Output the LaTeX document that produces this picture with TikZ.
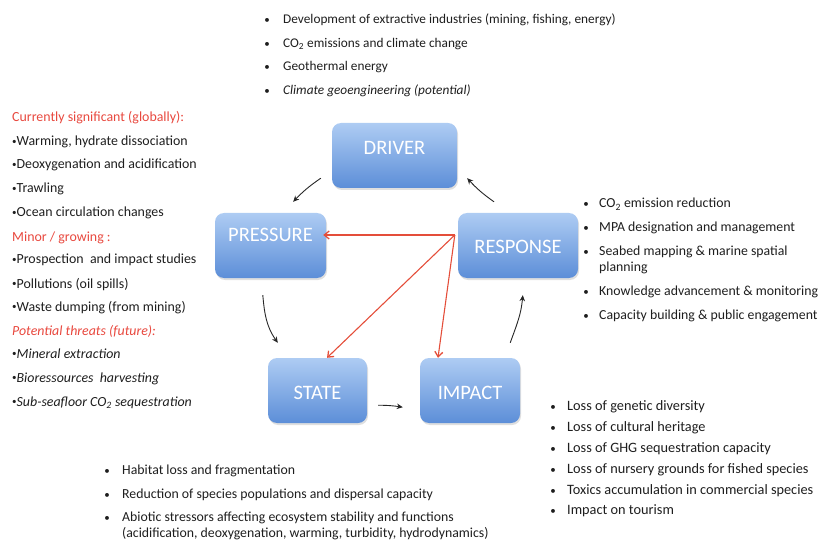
\documentclass[tikz,border=0pt]{standalone}
\usepackage{fontspec}
\setmainfont{Carlito}
\usetikzlibrary{arrows.meta,shadows,calc}
\definecolor{boxtop}{RGB}{174,204,243}
\definecolor{boxbot}{RGB}{92,142,216}
\definecolor{hdred}{RGB}{232,72,62}
\definecolor{arred}{RGB}{228,78,58}
\definecolor{txt}{RGB}{30,30,30}
\newcommand{\smbul}{\raisebox{1.6pt}{\fontsize{9}{10}\selectfont\textbullet}}
\begin{document}
\begin{tikzpicture}[x=1pt,y=1pt,
  box/.style={rounded corners=9pt, top color=boxtop, bottom color=boxbot,
    minimum height=65pt, text=white, font=\fontsize{20.5}{22}\selectfont,
    drop shadow={shadow xshift=1pt,shadow yshift=-2pt,opacity=0.25}, inner sep=0pt},
  topitem/.style={anchor=base west, inner sep=0pt, text=txt, font=\fontsize{13.3}{15}\selectfont},
  leftitem/.style={anchor=base west, inner sep=0pt, text=txt, font=\fontsize{13.9}{15}\selectfont},
  sideitem/.style={anchor=base west, inner sep=0pt, text=txt, font=\fontsize{13.8}{15}\selectfont},
  impitem/.style={sideitem, font=\fontsize{14.3}{16}\selectfont},
  bul/.style={anchor=base, inner sep=0pt, text=txt, font=\fontsize{11}{13}\selectfont},
  hd/.style={leftitem, text=hdred},
  cyc/.style={draw=black!85, line width=0.9pt, -{Stealth[length=6pt,width=5.5pt]}},
  redar/.style={draw=arred, line width=1.1pt, -{Straight Barb[length=5pt,width=8pt,line width=1.3pt]}}
]
\useasboundingbox (0,0) rectangle (822,-540);

% boxes
\node[box, minimum width=125pt, text height=13pt, text depth=14pt] (driver) at (394.5,-155.5) {DRIVER};
\node[box, minimum width=111pt, text height=13pt, text depth=20pt] (pressure) at (270.5,-245.5) {PRESSURE};
\node[box, minimum width=120pt, text height=16pt, text depth=0pt] (response) at (518,-245.5) {RESPONSE};
\node[box, minimum width=99pt, text height=18pt, text depth=0pt] (state) at (317.5,-390.5) {STATE};
\node[box, minimum width=100pt, text height=18pt, text depth=0pt] (impact) at (470,-390.5) {IMPACT};

% cycle arrows
\coordinate (d1) at ($(driver.south west)+(-11,10)$);
\coordinate (d2) at ($(pressure.north east)+(-33,11)$);
\draw[cyc] (d1) to[bend right=6] (d2);
\coordinate (r1) at ($(response.north)+(-24,11)$);
\coordinate (r2) at ($(driver.south east)+(10,10)$);
\draw[cyc] (r1) to[bend left=6] (r2);
\coordinate (p1) at ($(pressure.south west)+(48,-17)$);
\coordinate (p2) at ($(state.north west)+(10,15)$);
\draw[cyc] (p1) to[out=-85,in=125] (p2);
\coordinate (s1) at ($(state.south east)+(11,18)$);
\coordinate (s2) at ($(impact.south west)+(-17,16)$);
\draw[cyc] (s1) to[bend left=4] (s2);
\coordinate (i1) at ($(impact.north east)+(-10,15)$);
\coordinate (i2) at ($(response.south west)+(65,-17)$);
\draw[cyc] (i1) to[out=70,in=-95] (i2);

% red arrows
\coordinate (ro) at ($(response.west)+(-3,10.5)$);
\draw[redar] (ro) -- ($(pressure.east)+(-3,10.5)$) coordinate (rp);
\draw[redar] (ro) -- ($(state.north)+(9.5,0)$) coordinate (rs);
\draw[redar] (ro) -- ($(impact.north)+(-32,0)$) coordinate (ri);

% top list (driver)
\foreach \yy/\lbl [count=\i] in {
  19/{Development of extractive industries (mining, fishing, energy)},
  43/{CO\textsubscript{2} emissions and climate change},
  66/{Geothermal energy},
  90/{\textit{Climate geoengineering (potential)}}} {
  \node[bul] (topb\i) at (267,-\yy-4.5) {\textbullet};
  \node[topitem] (top\i) at (283,-\yy-4.5) {\lbl};
}

% left list (pressure)
\node[hd] (lh1) at (12,-117-5) {Currently significant (globally):};
\foreach \yy/\lbl [count=\i] in {
  141/{Warming, hydrate dissociation},
  164/{Deoxygenation and acidification},
  188/{Trawling},
  212/{Ocean circulation changes}} {
  \node[leftitem] (la\i) at (12,-\yy-5) {\smbul\lbl};
}
\node[hd] (lh2) at (12,-236-5) {Minor / growing :};
\foreach \yy/\lbl [count=\i] in {
  259/{Prospection\ \ and impact studies},
  283/{Pollutions (oil spills)},
  306/{Waste dumping (from mining)}} {
  \node[leftitem] (lb\i) at (12,-\yy-5) {\smbul\lbl};
}
\node[hd] (lh3) at (12,-330-5) {\textit{Potential threats (future):}};
\foreach \yy/\lbl [count=\i] in {
  353/{Mineral extraction},
  377/{Bioressources\ \ harvesting},
  401/{Sub-seafloor CO\textsubscript{2} sequestration}} {
  \node[leftitem] (lc\i) at (12,-\yy-5) {\smbul\textit{\lbl}};
}

% response list
\foreach \yy/\lbl [count=\i] in {
  203/{CO\textsubscript{2} emission reduction},
  227/{MPA designation and management},
  250/{Seabed mapping \& marine spatial},
  290/{Knowledge advancement \& monitoring},
  314/{Capacity building \& public engagement}} {
  \node[bul] (rb\i) at (586,-\yy-5) {\textbullet};
  \node[sideitem] (ri\i) at (599,-\yy-5) {\lbl};
}
\node[sideitem] (ri3b) at (599,-267-5) {planning};

% impact list
\foreach \yy/\lbl [count=\i] in {
  405/{Loss of genetic diversity},
  426/{Loss of cultural heritage},
  447/{Loss of GHG sequestration capacity},
  468/{Loss of nursery grounds for fished species},
  489/{Toxics accumulation in commercial species},
  509/{Impact on tourism}} {
  \node[bul] (ib\i) at (553,-\yy-5) {\textbullet};
  \node[impitem] (ii\i) at (567,-\yy-5) {\lbl};
}

% state list
\foreach \yy/\lbl [count=\i] in {
  469/{Habitat loss and fragmentation},
  493/{Reduction of species populations and dispersal capacity},
  516/{Abiotic stressors affecting ecosystem stability and functions}} {
  \node[bul] (sb\i) at (107,-\yy-5) {\textbullet};
  \node[sideitem] (si\i) at (122,-\yy-5) {\lbl};
}
\node[sideitem] (si3b) at (122,-532-5) {(acidification, deoxygenation, warming, turbidity, hydrodynamics)};
\end{tikzpicture}
\end{document}
